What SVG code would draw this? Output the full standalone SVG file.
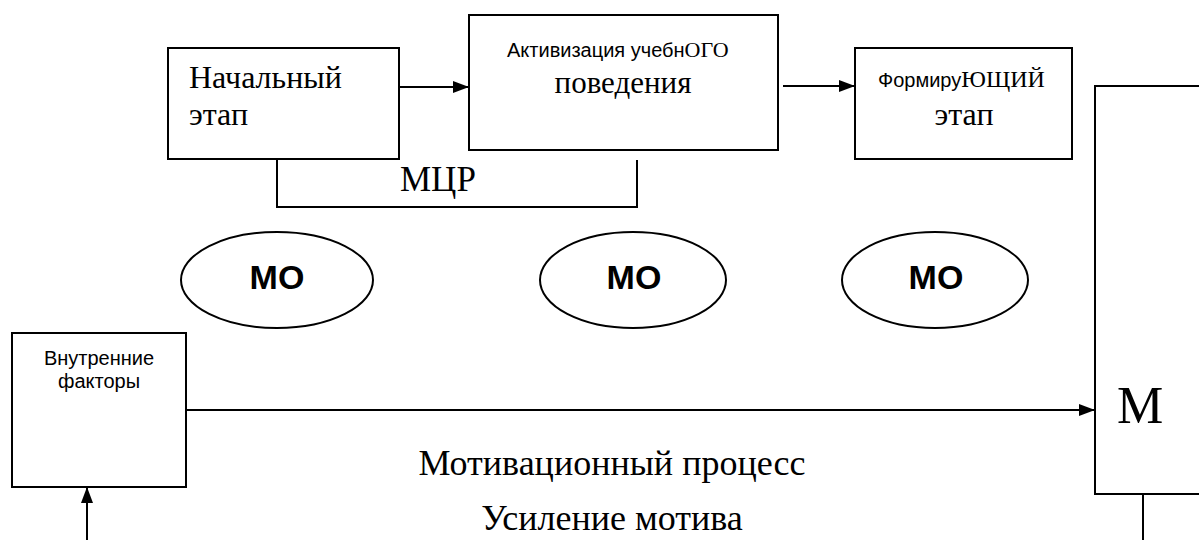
<svg xmlns="http://www.w3.org/2000/svg" width="1199" height="540" viewBox="0 0 1199 540">
<style>
.box{fill:#fff;stroke:#000;stroke-width:2}
.ln{fill:none;stroke:#000;stroke-width:2}
.ser{font-family:"Liberation Serif","Times New Roman",serif;fill:#000}
.san{font-family:"Liberation Sans",Arial,sans-serif;fill:#000}
.mo{font-family:"Liberation Sans",Arial,sans-serif;font-weight:bold;font-size:34px;fill:#000;text-anchor:middle}
</style>
<defs>
<marker id="ah" viewBox="0 0 16 12" refX="16" refY="6" markerWidth="16" markerHeight="12" markerUnits="userSpaceOnUse" orient="auto">
<path d="M0,0 L16,6 L0,12 z" fill="#000"/>
</marker>
</defs>
<rect width="1199" height="540" fill="#fff"/>
<g id="connectors">
<line class="ln" x1="399" y1="87" x2="469" y2="87" marker-end="url(#ah)"/>
<line class="ln" x1="783" y1="86" x2="855" y2="86" marker-end="url(#ah)"/>
<polyline class="ln" points="277,159 277,207 637,207 637,160"/>
<line class="ln" x1="186" y1="410" x2="1095" y2="410" marker-end="url(#ah)"/>
<line class="ln" x1="87" y1="540" x2="87" y2="487" marker-end="url(#ah)"/>
<line class="ln" x1="1143" y1="494" x2="1143" y2="540"/>
</g>
<g id="node-start">
<rect class="box" x="168" y="48" width="231" height="111"/>
<text class="ser" font-family="Liberation Serif, serif" font-size="32" x="189" y="88">Начальный</text>
<text class="ser" font-family="Liberation Serif, serif" font-size="32" x="189" y="125">этап</text>
</g>
<g id="node-activation">
<rect class="box" x="469" y="15" width="309" height="135"/>
<text x="507" y="57"><tspan class="san" font-size="20">Активизация учебн</tspan><tspan class="ser" font-family="Liberation Serif, serif" font-size="22">ОГО</tspan></text>
<text class="ser" font-family="Liberation Serif, serif" font-size="31" x="623" y="93" text-anchor="middle">поведения</text>
</g>
<g id="node-mcr">
<text class="ser" font-family="Liberation Serif, serif" font-size="35" x="400" y="191">МЦР</text>
</g>
<g id="node-forming">
<rect class="box" x="855" y="48" width="217" height="111"/>
<text x="878" y="87"><tspan class="san" font-size="20">Формиру</tspan><tspan class="ser" font-family="Liberation Serif, serif" font-size="24">ЮЩИЙ</tspan></text>
<text class="ser" font-family="Liberation Serif, serif" font-size="32" x="964" y="125" text-anchor="middle">этап</text>
</g>
<g id="node-mo1">
<ellipse class="box" cx="277" cy="280" rx="96" ry="48"/>
<text class="mo" x="277" y="289">МО</text>
</g>
<g id="node-mo2">
<ellipse class="box" cx="633" cy="280" rx="93" ry="48"/>
<text class="mo" x="634" y="289">МО</text>
</g>
<g id="node-mo3">
<ellipse class="box" cx="935" cy="280" rx="93" ry="48"/>
<text class="mo" x="936" y="289">МО</text>
</g>
<g id="node-internal">
<rect class="box" x="12" y="333" width="174" height="154"/>
<text class="san" font-size="20" x="99" y="365" text-anchor="middle">Внутренние</text>
<text class="san" font-size="20" x="99" y="388" text-anchor="middle">факторы</text>
</g>
<g id="node-m">
<rect class="box" x="1095" y="86" width="120" height="408"/>
<text class="ser" font-family="Liberation Serif, serif" font-size="52" x="1117" y="423">М</text>
</g>
<g id="labels">
<text class="ser" font-size="36" x="612" y="475" text-anchor="middle">Мотивационный процесс</text>
<text class="ser" font-size="36" x="612" y="530" text-anchor="middle">Усиление мотива</text>
</g>
</svg>
